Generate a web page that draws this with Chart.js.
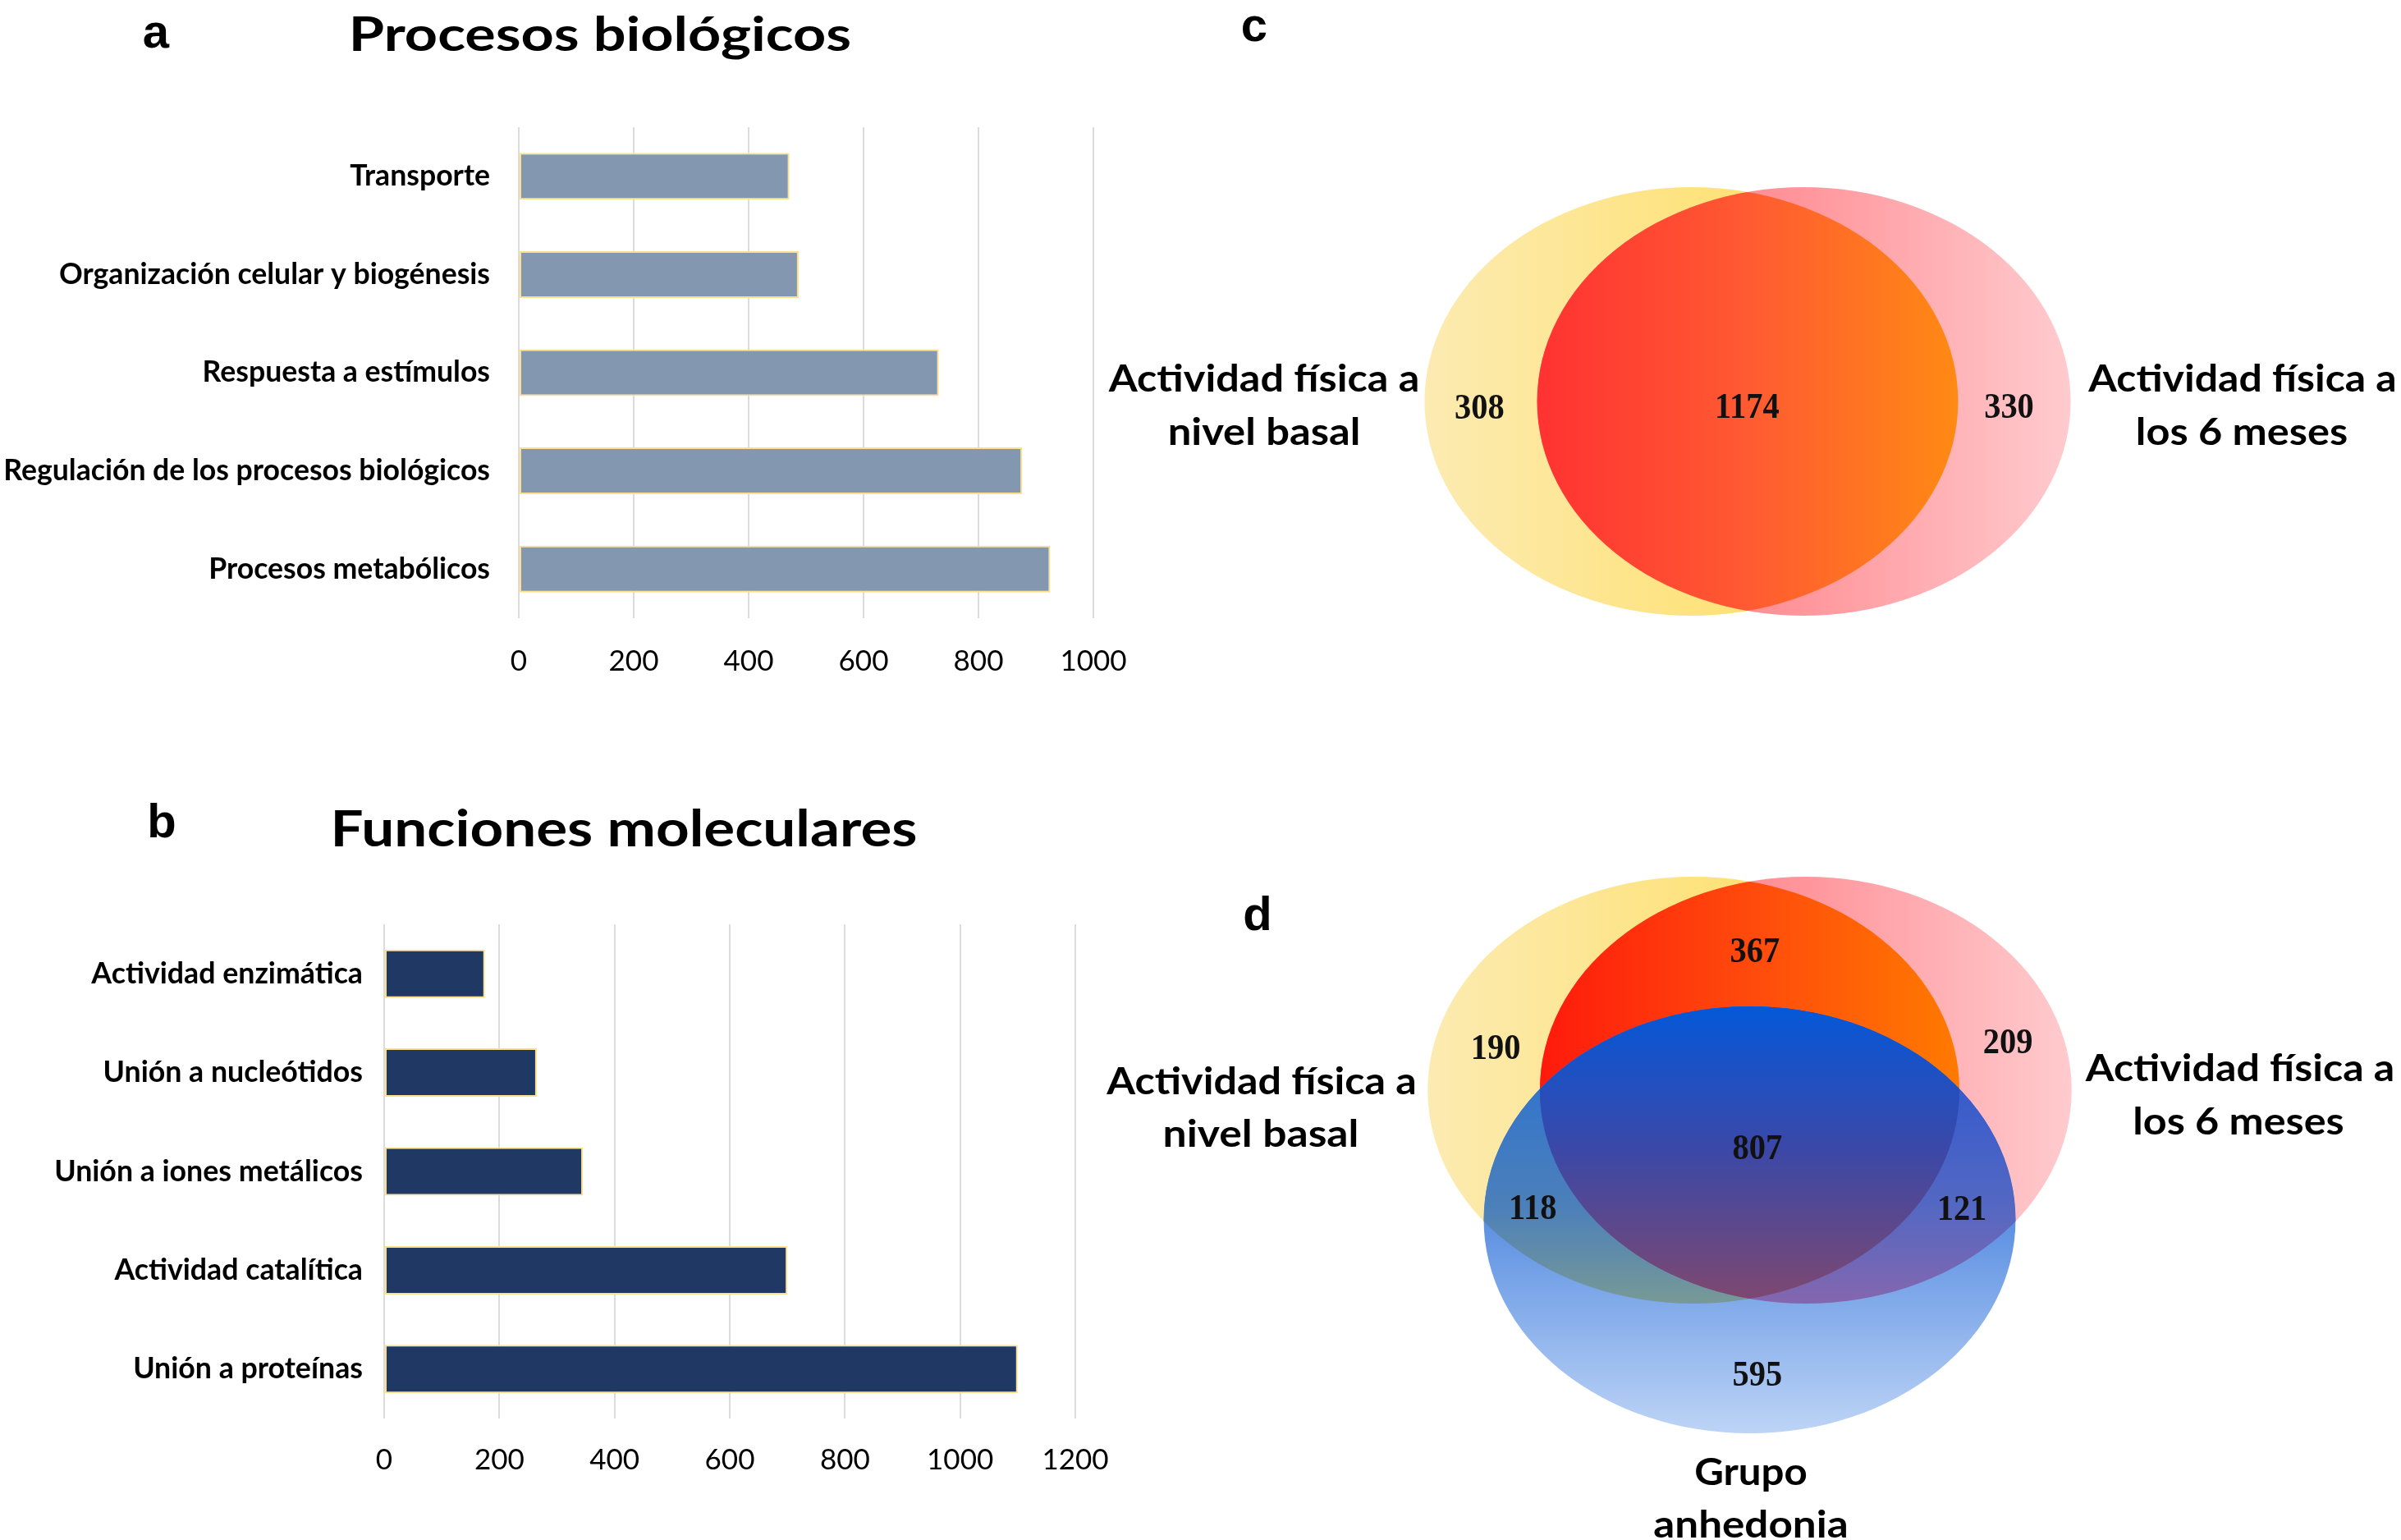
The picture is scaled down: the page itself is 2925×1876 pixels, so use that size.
<!DOCTYPE html>
<html>
<head>
<meta charset="utf-8">
<script src="https://cdn.jsdelivr.net/npm/chart.js@4.4.1/dist/chart.umd.min.js"></script>
<style>
  html, body { margin: 0; padding: 0; background: #fff; }
  #page { position: relative; width: 2925px; height: 1876px; overflow: hidden; background: #fff; }
  #page canvas { position: absolute; }
  .txt { position: absolute; white-space: nowrap; line-height: 1; color: #000; z-index: 2; }
</style>
</head>
<body>
<div id="page">
  <canvas id="chart-a" width="1400" height="723" style="left:0px;top:120px;"></canvas>
  <canvas id="chart-b" width="1400" height="728" style="left:0px;top:1090px;"></canvas>
  <canvas id="venn-c" width="910" height="574" style="left:1674px;top:202px;"></canvas>
  <canvas id="venn-d" width="907" height="741" style="left:1678px;top:1042px;"></canvas>
</div>
<script>
// ---- datos ----
const procesosLabels = ['Transporte', 'Organización celular y biogénesis', 'Respuesta a estímulos', 'Regulación de los procesos biológicos', 'Procesos metabólicos'];
const procesosValues = [471, 487, 731, 876, 925];
const procesosTicks = [0, 200, 400, 600, 800, 1000];

const funcionesLabels = ['Actividad enzimática', 'Unión a nucleótidos', 'Unión a iones metálicos', 'Actividad catalítica', 'Unión a proteínas'];
const funcionesValues = [175, 265, 345, 700, 1100];
const funcionesTicks = [0, 200, 400, 600, 800, 1000, 1200];

// c: solo basal, basal y 6 meses, solo 6 meses
const vennCCounts = [308, 1174, 330];
// d: basal+6m, solo basal, solo 6m, los tres, basal+anhedonia, 6m+anhedonia, solo anhedonia
const vennDCounts = [367, 190, 209, 807, 118, 121, 595];

// ---- geometria de los diagramas (unidades = radios de la elipse) ----
const vennCPos = [[-1.005, 0.036], [-0.002, 0.034], [0.98, 0.034]];
const vennDPos = [[0.02, -0.642], [-0.955, -0.188], [0.971, -0.215], [0.029, 0.281], [-0.816, 0.562], [0.798, 0.565], [0.029, 1.342]];
const ellC = { yellow: [-0.211, 0], pink: [0.211, 0] };
const ellD = { yellow: [-0.211, 0], pink: [0.211, 0], blue: [0, 0.608] };

const page = document.getElementById('page');

function fitSize(text, font, target) {
    let ctx = document.createElement('canvas').getContext('2d');
    ctx.font = font.replace('SIZE', '100px');
    return 100 * target / ctx.measureText(text).width;
}

function drawBars(canvasId, labels, values, ticks, cfg) {
    return new Chart(document.getElementById(canvasId), {
        type: 'bar',
        data: {
            labels: labels,
            datasets: [{
                data: values,
                backgroundColor: cfg.color,
                borderColor: '#FFE08A',
                borderWidth: 2,
                borderSkipped: false,
                barPercentage: cfg.barPct,
                categoryPercentage: 1
            }]
        },
        options: {
            indexAxis: 'y',
            responsive: false,
            animation: false,
            layout: { padding: { top: cfg.padTop, right: cfg.padRight, left: 0, bottom: 0 } },
            plugins: { legend: { display: false }, tooltip: { enabled: false } },
            scales: {
                x: {
                    min: ticks[0],
                    max: ticks[ticks.length - 1],
                    afterBuildTicks: function (s) { s.ticks = ticks.map(v => ({ value: v })); },
                    afterFit: function (s) { s.height = 90; s.paddingLeft = 0; s.paddingRight = 0; },
                    grid: { color: '#DCDCDC', lineWidth: 2, drawTicks: false },
                    border: { display: false },
                    ticks: {
                        color: '#000', padding: cfg.tickPad, font: { family: 'Lato', size: 35 },
                        callback: v => String(v)
                    }
                },
                y: {
                    afterFit: function (s) { s.width = cfg.yWidth; s.paddingTop = 0; s.paddingBottom = 0; },
                    grid: { display: false, drawTicks: false },
                    border: { display: false },
                    ticks: { color: '#000', padding: cfg.labelPad, font: { family: 'Lato', weight: 'bold', size: cfg.labelSize } }
                }
            }
        }
    });
}

// ---- helpers para las elipses ----
function ellGeom(chart, c) {
    let x = chart.scales.x, y = chart.scales.y;
    let px = x.getPixelForValue(c[0]), py = y.getPixelForValue(c[1]);
    return {
        px: px, py: py,
        rx: Math.abs(x.getPixelForValue(c[0] + 1) - px),
        ry: Math.abs(y.getPixelForValue(c[1] + 1) - py)
    };
}
function ellPath(ctx, g) {
    ctx.beginPath();
    ctx.ellipse(g.px, g.py, g.rx, g.ry, 0, 0, Math.PI * 2);
}
function hGrad(ctx, x0, x1, stops) {
    let gr = ctx.createLinearGradient(x0, 0, x1, 0);
    stops.forEach(s => gr.addColorStop(s[0], s[1]));
    return gr;
}
function vGrad(ctx, y0, y1, stops) {
    let gr = ctx.createLinearGradient(0, y0, 0, y1);
    stops.forEach(s => gr.addColorStop(s[0], s[1]));
    return gr;
}
function fillClipped(ctx, clips, fill, area) {
    ctx.save();
    clips.forEach(g => { ellPath(ctx, g); ctx.clip(); });
    ctx.fillStyle = fill;
    ctx.fillRect(area.left, area.top, area.right - area.left, area.bottom - area.top);
    ctx.restore();
}

function paintTwo(chart, ells, overlapStops) {
    let ctx = chart.ctx;
    let Y = ellGeom(chart, ells.yellow), P = ellGeom(chart, ells.pink);
    ellPath(ctx, Y);
    ctx.fillStyle = hGrad(ctx, Y.px - Y.rx, Y.px + Y.rx, [[0, '#FCEBB2'], [0.55, '#FEE27A'], [1, '#FFD63C']]);
    ctx.fill();
    ellPath(ctx, P);
    ctx.fillStyle = hGrad(ctx, P.px - P.rx, P.px + P.rx, [[0, '#FF6E78'], [0.5, '#FF969C'], [1, '#FFCBCE']]);
    ctx.fill();
    fillClipped(ctx, [Y, P], hGrad(ctx, P.px - P.rx, Y.px + Y.rx, overlapStops), chart.chartArea);
    return { Y: Y, P: P };
}

function drawVenn(canvasId, counts, positions, xr, yr, painter) {
    return new Chart(document.getElementById(canvasId), {
        type: 'scatter',
        data: { datasets: [{ data: positions.map(p => ({ x: p[0], y: p[1] })), pointRadius: 0 }] },
        options: {
            responsive: false,
            animation: false,
            layout: { padding: 0 },
            plugins: { legend: { display: false }, tooltip: { enabled: false } },
            scales: {
                x: { type: 'linear', min: xr[0], max: xr[1], display: false },
                y: { type: 'linear', min: yr[0], max: yr[1], reverse: true, display: false }
            }
        },
        plugins: [{
            id: 'venn',
            beforeDatasetsDraw(chart) { painter(chart); },
            afterDatasetsDraw(chart) {
                let ctx = chart.ctx;
                chart.getDatasetMeta(0).data.forEach(function (pt, i) {
                    ctx.save();
                    ctx.translate(pt.x, pt.y);
                    ctx.scale(0.92, 1);
                    ctx.font = 'bold 44px "Liberation Serif"';
                    ctx.fillStyle = '#111';
                    ctx.textAlign = 'center';
                    ctx.textBaseline = 'middle';
                    ctx.fillText(String(counts[i]), 0, 0);
                    ctx.restore();
                });
            }
        }]
    });
}

// ---- barras ----
drawBars('chart-a', procesosLabels, procesosValues, procesosTicks, {
    color: '#8497B0', barPct: 0.477, padTop: 35, padRight: 68, yWidth: 632, tickPad: 32, labelPad: 35,
    labelSize: fitSize('Organización celular y biogénesis', 'bold SIZE Lato', 525)
});
drawBars('chart-b', funcionesLabels, funcionesValues, funcionesTicks, {
    color: '#1F3864', barPct: 0.49, padTop: 36, padRight: 90, yWidth: 468, tickPad: 30, labelPad: 26,
    labelSize: fitSize('Unión a iones metálicos', 'bold SIZE Lato', 376)
});

// ---- diagramas de Venn ----
drawVenn('venn-c', vennCCounts, vennCPos, [-1.4, 1.4], [-1.1, 1.1], function (chart) {
    paintTwo(chart, ellC, [[0, '#FF3232'], [0.5, '#FF5A32'], [1, '#FF8A14']]);
});

drawVenn('venn-d', vennDCounts, vennDPos, [-1.4, 1.4], [-1.1, 1.75], function (chart) {
    let ctx = chart.ctx, area = chart.chartArea;
    let g = paintTwo(chart, ellD, [[0, '#FF1A0C'], [0.5, '#FF4A0C'], [1, '#FF7A00']]);
    let B = ellGeom(chart, ellD.blue);
    let top = B.py - B.ry, bot = B.py + B.ry;
    fillClipped(ctx, [B], vGrad(ctx, top, bot, [[0, '#1E62DC'], [0.5, '#5C90E2'], [1, '#BDD4F6']]), area);
    fillClipped(ctx, [B, g.Y], vGrad(ctx, top, bot, [[0.12, '#2E72CE'], [0.47, '#4C80BA'], [0.72, '#7C9C92']]), area);
    fillClipped(ctx, [B, g.P], vGrad(ctx, top, bot, [[0.12, '#2F58CE'], [0.47, '#5468C2'], [0.72, '#8A66AC']]), area);
    fillClipped(ctx, [B, g.Y, g.P], vGrad(ctx, top, bot, [[0, '#0558D8'], [0.33, '#3A48A8'], [0.7, '#80486E']]), area);
});

// ---- textos ----
const textItems = [
    { text: 'a', cx: 190, cy: 38, font: 'bold 58px "Liberation Sans"' },
    { text: 'Procesos biológicos', cx: 731, cy: 40, w: 612, font: 'bold 58px Lato' },
    { text: 'b', cx: 197, cy: 1000, font: 'bold 58px "Liberation Sans"' },
    { text: 'Funciones moleculares', cx: 760, cy: 1007, w: 715, font: 'bold 61px Lato' },
    { text: 'c', cx: 1528, cy: 30, font: 'bold 58px "Liberation Sans"' },
    { text: 'd', cx: 1532, cy: 1113, font: 'bold 58px "Liberation Sans"' },
    { text: 'Actividad física a', cx: 1540, cy: 460, w: 378, font: 'bold 46px Lato' },
    { text: 'nivel basal', cx: 1540, cy: 525, w: 235, font: 'bold 46px Lato' },
    { text: 'Actividad física a', cx: 2732, cy: 460, w: 375, font: 'bold 46px Lato' },
    { text: 'los 6 meses', cx: 2731, cy: 525, w: 258, font: 'bold 46px Lato' },
    { text: 'Actividad física a', cx: 1537, cy: 1316, w: 377, font: 'bold 46px Lato' },
    { text: 'nivel basal', cx: 1536, cy: 1380, w: 239, font: 'bold 46px Lato' },
    { text: 'Actividad física a', cx: 2729, cy: 1300, w: 376, font: 'bold 46px Lato' },
    { text: 'los 6 meses', cx: 2727, cy: 1365, w: 257, font: 'bold 46px Lato' },
    { text: 'Grupo', cx: 2133, cy: 1792, w: 138, font: 'bold 46px Lato' },
    { text: 'anhedonia', cx: 2133, cy: 1856, w: 237, font: 'bold 46px Lato' }
];

textItems.forEach(function (t) {
    let d = document.createElement('div');
    d.className = 'txt';
    d.textContent = t.text;
    d.style.font = t.font;
    d.style.lineHeight = '1';
    page.appendChild(d);
    let k = t.w ? t.w / d.offsetWidth : 1;
    d.style.left = t.cx + 'px';
    d.style.top = t.cy + 'px';
    d.style.transform = 'translate(-50%, -50%) scaleX(' + k.toFixed(3) + ')';
});
</script>
</body>
</html>
